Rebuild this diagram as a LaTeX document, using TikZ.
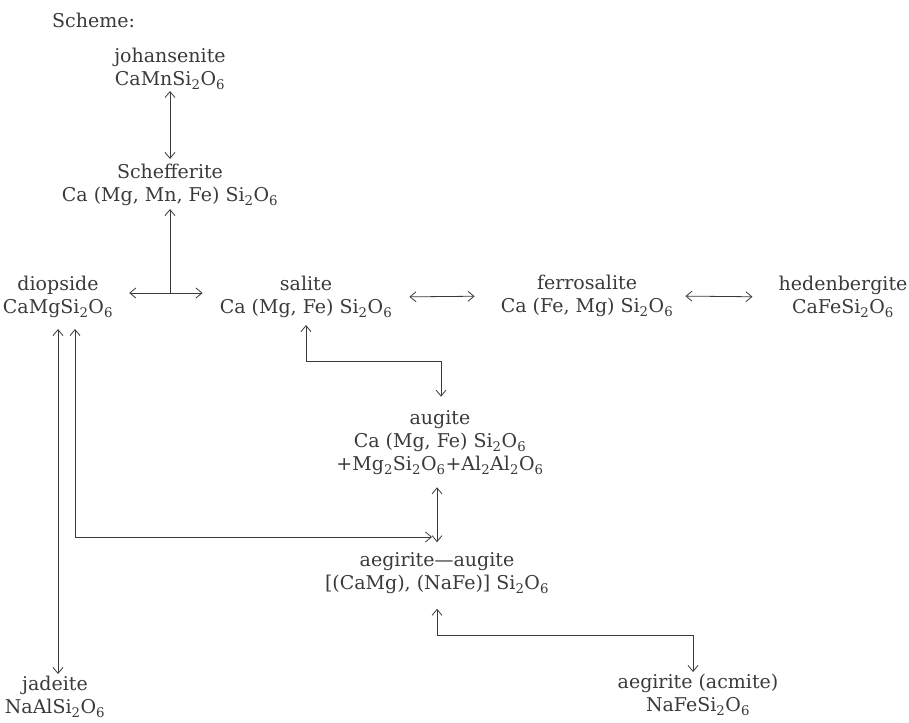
\documentclass[tikz,border=0pt]{standalone}
\usepackage{fontspec}
\setmainfont{DejaVu Serif}
\usepackage{xcolor}
\usetikzlibrary{arrows.meta, calc}
\definecolor{ink}{HTML}{3A3A3A}
\newcommand{\sil}[2]{#1\textsubscript{2}O\textsubscript{#2}}

\begin{document}
\begin{tikzpicture}[
  x=1pt, y=-1pt,
  every node/.style={font=\fontsize{19}{23}\selectfont, text=ink, align=center, inner sep=0pt},
  link/.style={draw=ink, line width=0.8pt, {Straight Barb[length=6pt,width=10pt]}-{Straight Barb[length=6pt,width=10pt]}},
  tip/.style={draw=ink, line width=0.8pt, -{Straight Barb[length=6pt,width=10pt]}}
]
\useasboundingbox (0,0) rectangle (909,722);

% minerals
\node[anchor=west] (scheme) at (52,20) {Scheme:};
\node (joh) at (170,69) {johansenite\\CaMn\sil{Si}{6}};
\node (sch) at (170,185) {Schefferite\\Ca (Mg, Mn, Fe) \sil{Si}{6}};
\node (diop) at (58,297) {diopside\\CaMg\sil{Si}{6}};
\node (sal) at (306,297) {salite\\Ca (Mg, Fe) \sil{Si}{6}};
\node (fer) at (587,296) {ferrosalite\\Ca (Fe, Mg) \sil{Si}{6}};
\node (hed) at (843,297) {hedenbergite\\CaFe\sil{Si}{6}};
\node (aug) at (440,443) {augite\\Ca (Mg, Fe) \sil{Si}{6}\\+Mg\textsubscript{2}\sil{Si}{6}+Al\textsubscript{2}\sil{Al}{6}};
\node (aeg) at (437,573) {aegirite---augite\\{[}(CaMg), (NaFe){]} \sil{Si}{6}};
\node (jad) at (55,697) {jadeite\\NaAl\sil{Si}{6}};
\node (acm) at (698,695) {aegirite (acmite)\\NaFe\sil{Si}{6}};

% bend points
\coordinate (schfork) at ($(sch.south |- diop.east)+(0,-4)$);
\coordinate (salfork) at (441,361);
\coordinate (diopfork) at (75,537);
\coordinate (aegfork) at (693,635);

% arrows
\draw[link, shorten <=1pt, shorten >=5pt] (joh.south) -- (sch.north);
\draw[link, shorten <=16pt, shorten >=17pt] ([yshift=4pt]diop.east) -- ([yshift=4pt]sal.west);
\draw[tip, shorten >=3pt] (schfork) -- (sch.south);
\draw[link, shorten <=17pt, shorten >=26pt] (sal.east) -- (fer.west);
\draw[link, shorten <=12pt, shorten >=26pt] (fer.east) -- (hed.west);
\draw[link, shorten <=7pt, shorten >=14pt] (sal.south) |- (salfork) -- (aug.north -| salfork);
\draw[link, shorten <=12pt, shorten >=10pt] (aeg.north |- aug.south) -- (aeg.north);
\draw[link, shorten <=11pt, shorten >=2pt] (diop.south) -- (diop.south |- jad.north);
\draw[link, shorten <=11pt, shorten >=5pt] (diop.south -| diopfork) -- (diopfork) -- (diopfork -| aeg.north);
\draw[link, shorten <=15pt, shorten >=2pt] (aeg.south) |- (aegfork) -- (aegfork |- acm.north);
\end{tikzpicture}
\end{document}
